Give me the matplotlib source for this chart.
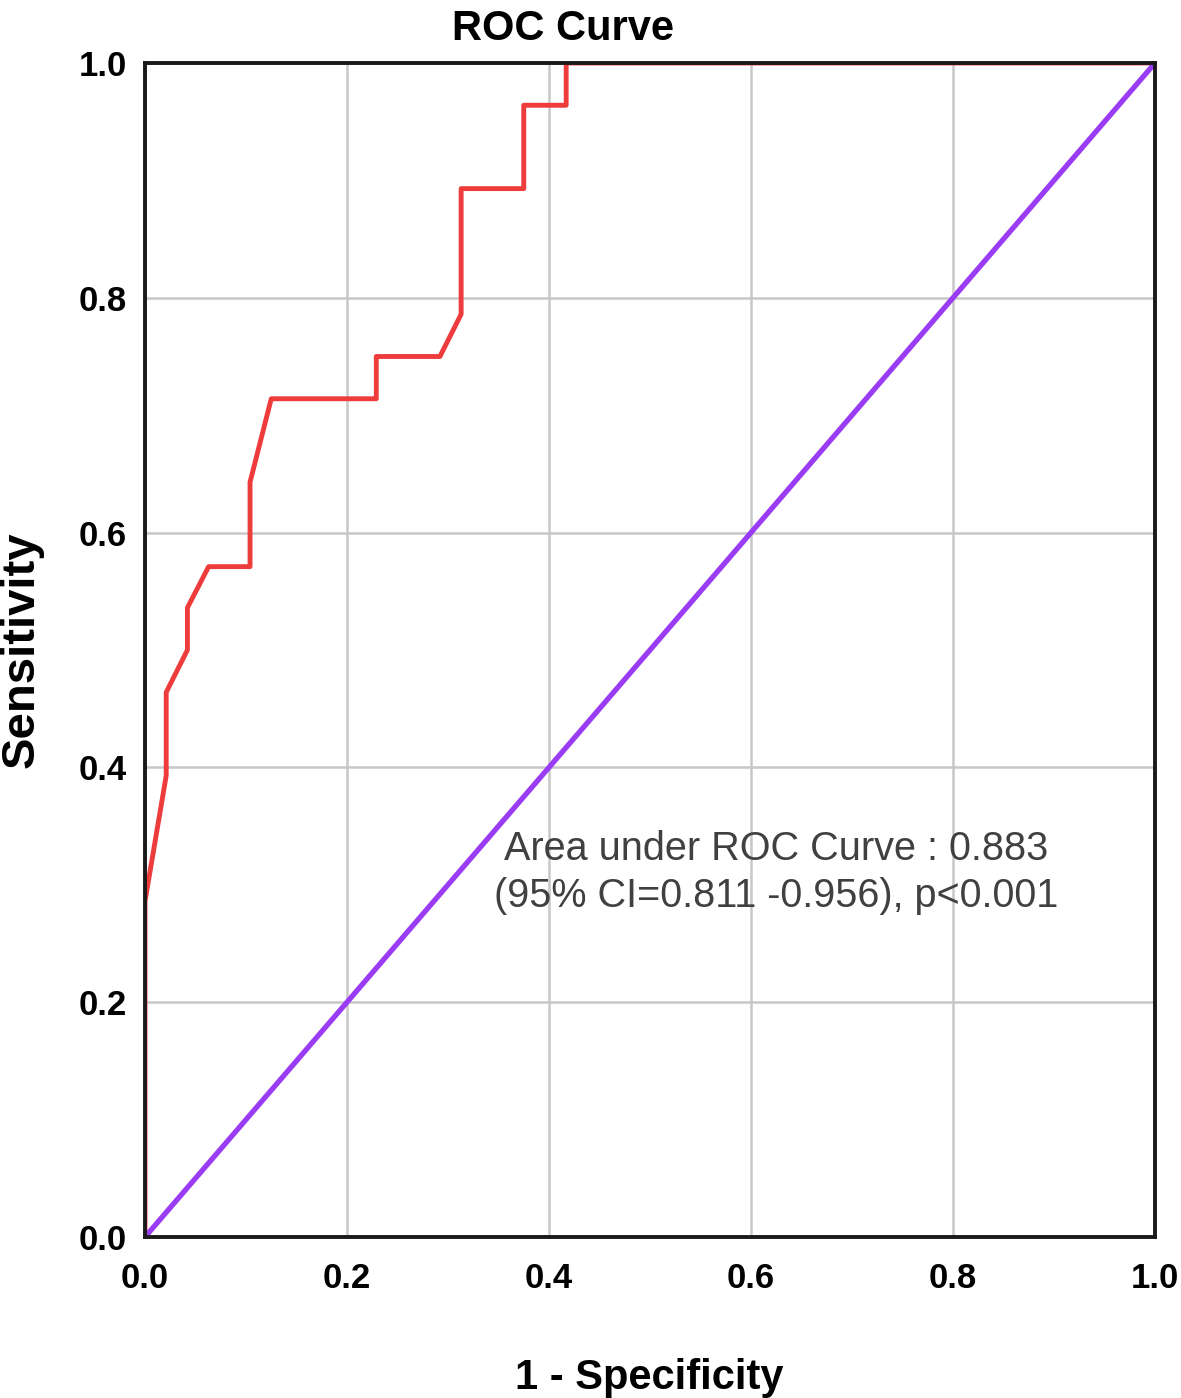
import numpy as np
import matplotlib.pyplot as plt

# ROC curve points (1 - specificity, sensitivity)
fpr = [0.0, 0.0, 0.021, 0.021, 0.042, 0.042, 0.063, 0.104, 0.104, 0.125,
       0.229, 0.229, 0.292, 0.313, 0.313, 0.375, 0.375, 0.417, 0.417, 1.0]
tpr = [0.0, 0.286, 0.393, 0.464, 0.500, 0.536, 0.571, 0.571, 0.643, 0.714,
       0.714, 0.750, 0.750, 0.786, 0.893, 0.893, 0.964, 0.964, 1.0, 1.0]
ref_line = [0.0, 1.0]
ticks = [0.0, 0.2, 0.4, 0.6, 0.8, 1.0]
tick_labels = ["0.0", "0.2", "0.4", "0.6", "0.8", "1.0"]
auc_text = "Area under ROC Curve : 0.883"
ci_text = "(95% CI=0.811 -0.956), p<0.001"

plt.rcParams['font.family'] = ["Liberation Sans", "DejaVu Sans"]

W, H = 1181, 1398
fig = plt.figure(figsize=(W / 100, H / 100), dpi=100)
ax = fig.add_axes([145 / W, 1 - 1237 / H, (1155 - 145) / W, (1237 - 63) / H])

ax.plot(ref_line, ref_line, color="#9b3cf5", lw=3.8, solid_capstyle="butt", zorder=3)
ax.plot(fpr, tpr, color="#ee3b3b", lw=3.5, zorder=2)

ax.set_xlim(0, 1)
ax.set_ylim(0, 1)
ax.set_xticks(ticks)
ax.set_yticks(ticks)
ax.set_xticklabels(tick_labels, fontweight="bold", fontsize=25)
ax.set_yticklabels(tick_labels, fontweight="bold", fontsize=25)
ax.tick_params(axis="x", length=0, pad=18)
ax.tick_params(axis="y", length=0, pad=13)
ax.grid(True, color="#c8c8c8", lw=1.8, zorder=0)
ax.set_axisbelow(True)
for s in ax.spines.values():
    s.set_linewidth(2.8)
    s.set_color("#1a1a1a")
    s.set_zorder(4)

ax.text(0.625, 0.321, auc_text, fontsize=28.5, color="#404040",
        ha="center", va="baseline", zorder=5)
ax.text(0.625, 0.281, ci_text, fontsize=28.5, color="#404040",
        ha="center", va="baseline", zorder=5)

fig.text(563 / W, 1 - 40 / H, "ROC Curve", fontsize=30, fontweight="bold",
         ha="center", va="baseline")
fig.text(649 / W, 1 - 1389 / H, "1 - Specificity", fontsize=30, fontweight="bold",
         ha="center", va="baseline")
fig.text(22 / W, 1 - 650 / H, "Sensitivity", fontsize=34, fontweight="bold",
         rotation=90, ha="center", va="center")

fig.savefig("out.png", dpi=100)
